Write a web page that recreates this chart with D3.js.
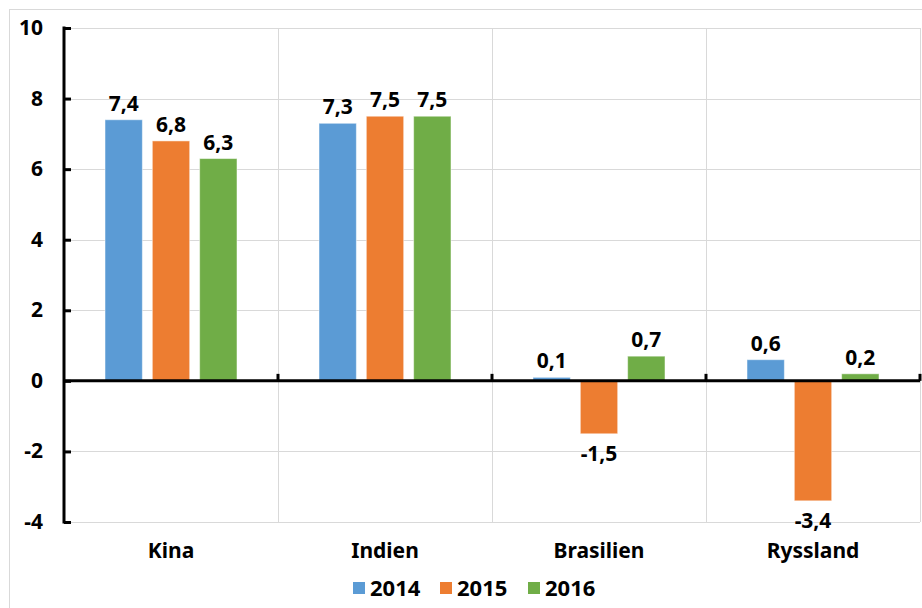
<!DOCTYPE html>
<html>
<head>
<meta charset="utf-8">
<script src="https://cdn.jsdelivr.net/npm/d3@7"></script>
<style>
	body { margin: 0; background: #fff; }
	text { font-family: "Noto Sans", "Open Sans", sans-serif; font-weight: bold; fill: #000; }
	.grid line { stroke: #d9d9d9; stroke-width: 1px; }
</style>
</head>
<body>
<script>

// Data
var countries = ["Kina", "Indien", "Brasilien", "Ryssland"];
var years = ["2014", "2015", "2016"];
var v2014 = [7.4, 7.3, 0.1, 0.6];
var v2015 = [6.8, 7.5, -1.5, -3.4];
var v2016 = [6.3, 7.5, 0.7, 0.2];
var yTicks = [-4, -2, 0, 2, 4, 6, 8, 10];
var colors = ["#5B9BD5", "#ED7D31", "#70AD47"];

var series = [v2014, v2015, v2016];

// Dimensions (plot area)
var W = 922, H = 608;
var plotLeft = 64, plotRight = 920, plotTop = 28, plotBottom = 522;

var svg = d3.select("body").append("svg")
	.attr("width", W)
	.attr("height", H);

// Outer frame
svg.append("rect")
	.attr("x", 9.5).attr("y", 9.5)
	.attr("width", W + 20).attr("height", H + 20)
	.attr("fill", "none")
	.attr("stroke", "#d9d9d9");

var x0 = d3.scaleBand().domain(countries).range([plotLeft, plotRight]);
var x1 = d3.scaleBand().domain(years)
	.range([41, x0.bandwidth() - 41])
	.paddingInner(0.21);
var y = d3.scaleLinear().domain([-4, 10]).range([plotBottom, plotTop]);

// Grid
var grid = svg.append("g").attr("class", "grid");
grid.selectAll(".h").data(yTicks).enter().append("line")
	.attr("x1", plotLeft).attr("x2", plotRight)
	.attr("y1", function(d) { return Math.round(y(d)) + 0.5; })
	.attr("y2", function(d) { return Math.round(y(d)) + 0.5; });
grid.selectAll(".v").data(countries).enter().append("line")
	.attr("x1", function(d) { return Math.round(x0(d) + x0.bandwidth()) + 0.5; })
	.attr("x2", function(d) { return Math.round(x0(d) + x0.bandwidth()) + 0.5; })
	.attr("y1", plotTop).attr("y2", plotBottom);

// Bars
var rows = [];
countries.forEach(function(c, i) {
	years.forEach(function(yr, j) {
		rows.push({country: c, year: yr, value: series[j][i], color: colors[j]});
	});
});

svg.append("g").selectAll("rect").data(rows).enter().append("rect")
	.attr("x", function(d) { return x0(d.country) + x1(d.year); })
	.attr("width", x1.bandwidth())
	.attr("y", function(d) { return y(Math.max(0, d.value)); })
	.attr("height", function(d) { return Math.abs(y(d.value) - y(0)); })
	.attr("fill", function(d) { return d.color; })
	.attr("stroke", "#fff")
	.attr("stroke-opacity", 0.5)
	.attr("stroke-width", 1);

// Value labels (comma decimal, plain hyphen)
var fmt = function(v) { return v.toFixed(1).replace(".", ","); };
svg.append("g").selectAll("text").data(rows).enter().append("text")
	.attr("x", function(d) { return x0(d.country) + x1(d.year) + x1.bandwidth() / 2; })
	.attr("y", function(d) { return d.value >= 0 ? y(d.value) - 9 : y(d.value) + 27; })
	.attr("text-anchor", "middle")
	.style("font-size", "21px")
	.text(function(d) { return fmt(d.value); });

// Y axis
var yAxis = svg.append("g")
	.attr("transform", "translate(" + plotLeft + ",0)")
	.call(d3.axisRight(y).tickValues(yTicks).tickSize(7));
yAxis.select(".domain").remove();
yAxis.selectAll(".tick line").attr("stroke", "#000").attr("stroke-width", 3);
yAxis.selectAll(".tick text").remove();
svg.append("line")
	.attr("x1", plotLeft).attr("x2", plotLeft)
	.attr("y1", plotTop - 1.5).attr("y2", plotBottom + 1.5)
	.attr("stroke", "#000").attr("stroke-width", 3);

svg.append("g").selectAll("text").data(yTicks).enter().append("text")
	.attr("x", 43)
	.attr("y", function(d) { return y(d) + 7; })
	.attr("text-anchor", "end")
	.style("font-size", "21px")
	.text(function(d) { return String(d); });

// Zero line with category ticks
svg.append("line")
	.attr("x1", plotLeft).attr("x2", plotRight)
	.attr("y1", y(0)).attr("y2", y(0))
	.attr("stroke", "#000").attr("stroke-width", 3);
svg.append("g").selectAll("line").data(countries).enter().append("line")
	.attr("x1", function(d) { return x0(d) + x0.bandwidth(); })
	.attr("x2", function(d) { return x0(d) + x0.bandwidth(); })
	.attr("y1", y(0)).attr("y2", y(0) - 7)
	.attr("stroke", "#000").attr("stroke-width", 3);

// Category labels
svg.append("g").selectAll("text").data(countries).enter().append("text")
	.attr("x", function(d) { return x0(d) + x0.bandwidth() / 2; })
	.attr("y", 558)
	.attr("text-anchor", "middle")
	.style("font-size", "21px")
	.text(function(d) { return d; });

// Legend
var legendX = [353, 440, 528];
var legend = svg.append("g").selectAll("g").data(years).enter().append("g")
	.attr("transform", function(d, i) { return "translate(" + legendX[i] + ",582)"; });
legend.append("rect")
	.attr("width", 12).attr("height", 12)
	.attr("fill", function(d, i) { return colors[i]; });
legend.append("text")
	.attr("x", 17).attr("y", 14)
	.style("font-size", "22px")
	.text(function(d) { return d; });

</script>
</body>
</html>
